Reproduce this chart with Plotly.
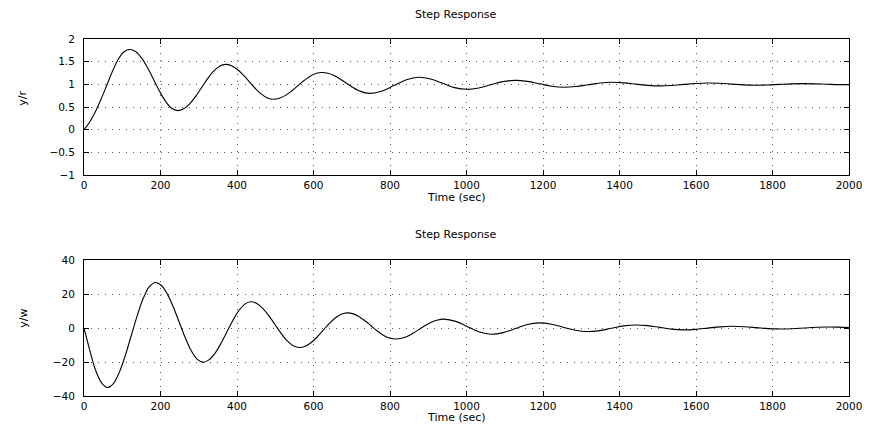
import plotly.graph_objects as go

# ---- data ----
t_r = [0, 15, 30, 45, 60, 75, 90, 105, 120,
       135.6, 151.3, 166.9, 182.5, 198.1, 213.8, 229.4, 245,
       260.6, 276.3, 291.9, 307.5, 323.1, 338.8, 354.4, 370,
       385.6, 401.3, 416.9, 432.5, 448.1, 463.8, 479.4, 495,
       510.9, 526.8, 542.6, 558.5, 574.4, 590.3, 606.1, 622,
       637.8, 653.5, 669.3, 685, 700.8, 716.5, 732.3, 748,
       780, 811, 843, 875,
       906, 938, 969, 1000, 1032, 1063, 1095, 1127, 1159, 1191, 1223, 1255,
       1286, 1318, 1349, 1380, 1411, 1443, 1474, 1505, 1536, 1568, 1599, 1630,
       1661, 1693, 1724, 1755, 1786, 1818, 1849, 1880, 1911, 1943, 1974, 2000]
y_r = [0, 0.17, 0.40, 0.68, 0.99, 1.30, 1.56, 1.72, 1.77,
       1.719, 1.572, 1.353, 1.095, 0.837, 0.618, 0.471, 0.42,
       0.459, 0.569, 0.735, 0.93, 1.125, 1.291, 1.401, 1.44,
       1.411, 1.327, 1.202, 1.055, 0.908, 0.783, 0.699, 0.67,
       0.692, 0.756, 0.852, 0.965, 1.078, 1.174, 1.238, 1.26,
       1.243, 1.193, 1.118, 1.03, 0.942, 0.867, 0.817, 0.80,
       0.853, 0.978, 1.103, 1.155,
       1.116, 1.022, 0.928, 0.89, 0.919, 0.989, 1.059, 1.088, 1.066, 1.012, 0.958, 0.935,
       0.951, 0.99, 1.029, 1.045, 1.033, 1.005, 0.977, 0.965, 0.975, 0.998, 1.02, 1.03,
       1.023, 1.005, 0.987, 0.98, 0.985, 0.998, 1.01, 1.015, 1.011, 1.002, 0.993, 0.99]

t_w = [0, 15, 30, 46, 61,
       76.8, 92.5, 108.3, 124, 139.8, 155.5, 171.3, 187,
       202.5, 218, 233.5, 249, 264.5, 280, 295.5, 311,
       326.6, 342.3, 357.9, 373.5, 389.1, 404.8, 420.4, 436,
       451.9, 467.8, 483.6, 499.5, 515.4, 531.3, 547.1, 563,
       578.6, 594.3, 609.9, 625.5, 641.1, 656.8, 672.4, 688,
       703.8, 719.5, 735.3, 751, 766.8, 782.5, 798.3, 814,
       829.9, 845.8, 861.6, 877.5, 893.4, 909.3, 925.1, 941,
       972, 1003, 1034, 1065,
       1096, 1128, 1159, 1190, 1222, 1253, 1285, 1316, 1348, 1379, 1411, 1442,
       1473, 1505, 1536, 1567, 1599, 1631, 1663, 1695, 1726, 1758, 1789, 1820,
       1852, 1883, 1915, 1946, 1973, 2000]
y_w = [0, -13.0, -24.7, -32.3, -35.0,
       -32.65, -25.95, -15.93, -4.1, 7.73, 17.75, 24.45, 26.8,
       25.02, 19.93, 12.33, 3.35, -5.63, -13.23, -18.32, -20.1,
       -18.75, -14.9, -9.15, -2.35, 4.45, 10.2, 14.05, 15.4,
       14.38, 11.46, 7.1, 1.95, -3.2, -7.56, -10.48, -11.5,
       -10.72, -8.51, -5.21, -1.3, 2.61, 5.91, 8.12, 8.9,
       8.31, 6.64, 4.15, 1.2, -1.75, -4.24, -5.91, -6.5,
       -6.06, -4.79, -2.89, -0.65, 1.59, 3.49, 4.76, 5.2,
       3.9, 0.75, -2.4, -3.7,
       -2.72, -0.35, 2.02, 3.0, 2.25, 0.45, -1.35, -2.1, -1.53, -0.15, 1.23, 1.8,
       1.38, 0.35, -0.68, -1.1, -0.79, -0.05, 0.69, 1.0, 0.77, 0.2, -0.37, -0.6,
       -0.42, 0, 0.42, 0.6, 0.5, 0.3]

x_ticks = [0, 200, 400, 600, 800, 1000, 1200, 1400, 1600, 1800, 2000]
yr_ticks = [-1, -0.5, 0, 0.5, 1, 1.5, 2]
yr_labels = ["\u22121", "\u22120.5", "0", "0.5", "1", "1.5", "2"]
yw_ticks = [-40, -20, 0, 20, 40]
yw_labels = ["\u221240", "\u221220", "0", "20", "40"]

title_text = "Step Response"
xlabel_text = "Time (sec)"
ylabel_top = "y/r"
ylabel_bottom = "y/w"

# ---- layout geometry (pixels in the 874x425 window) ----
OX, OY = 8, 8            # default page body margin
W, H = 874 - OX, 425 - OY
L, R, T, B = 84 - OX, 857 - OX, 39 - OY, 396 - OY
PW, PH = R - L, B - T


def px(x):
    return (x - OX - L) / PW


def py(y):
    return (B - (y - OY)) / PH


FONT = "DejaVu Sans, Liberation Sans, Arial, sans-serif"

fig = go.Figure()
fig.add_trace(go.Scatter(x=t_r, y=y_r, mode="lines", xaxis="x", yaxis="y",
                         line=dict(color="black", width=1.1, shape="spline", smoothing=1.0),
                         showlegend=False, hoverinfo="skip"))
fig.add_trace(go.Scatter(x=t_w, y=y_w, mode="lines", xaxis="x2", yaxis="y2",
                         line=dict(color="black", width=1.1, shape="spline", smoothing=1.0),
                         showlegend=False, hoverinfo="skip"))

axis_common = dict(
    showline=True, linecolor="black", linewidth=1, mirror="ticks",
    ticks="inside", ticklen=5, tickcolor="black", tickwidth=1,
    showgrid=True, gridcolor="#555", gridwidth=1, griddash="1px,6px",
    zeroline=False, tickfont=dict(family=FONT, size=10.5, color="black"),
)

top_dom = [py(175), 1.0]
bot_dom = [0.0, py(260)]

fig.update_layout(
    width=W, height=H,
    margin=dict(l=L, r=W - R, t=T, b=H - B, pad=0),
    paper_bgcolor="white", plot_bgcolor="white",
    showlegend=False,
    xaxis=dict(axis_common, domain=[0, 1], anchor="y", range=[0, 2000],
               tickvals=x_ticks, ticktext=[str(v) for v in x_ticks]),
    yaxis=dict(axis_common, domain=top_dom, anchor="x", range=[-1, 2],
               tickvals=yr_ticks, ticktext=yr_labels, ticklabelstandoff=6),
    xaxis2=dict(axis_common, domain=[0, 1], anchor="y2", range=[0, 2000],
                tickvals=x_ticks, ticktext=[str(v) for v in x_ticks]),
    yaxis2=dict(axis_common, domain=bot_dom, anchor="x2", range=[-40, 40],
                tickvals=yw_ticks, ticktext=yw_labels, ticklabelstandoff=6),
)

ann_font = dict(family=FONT, size=11, color="black")
annotations = [
    dict(text=title_text, x=px(460), y=py(14)),
    dict(text=xlabel_text, x=px(460), y=py(197)),
    dict(text=title_text, x=px(460), y=py(234)),
    dict(text=xlabel_text, x=px(460), y=py(417)),
    dict(text=ylabel_top, x=px(22), y=py(98), textangle=-90),
    dict(text=ylabel_bottom, x=px(22), y=py(318), textangle=-90),
]
for a in annotations:
    fig.add_annotation(xref="paper", yref="paper", showarrow=False,
                       xanchor="center", yanchor="middle", font=ann_font, **a)

fig.write_html("out.html")
